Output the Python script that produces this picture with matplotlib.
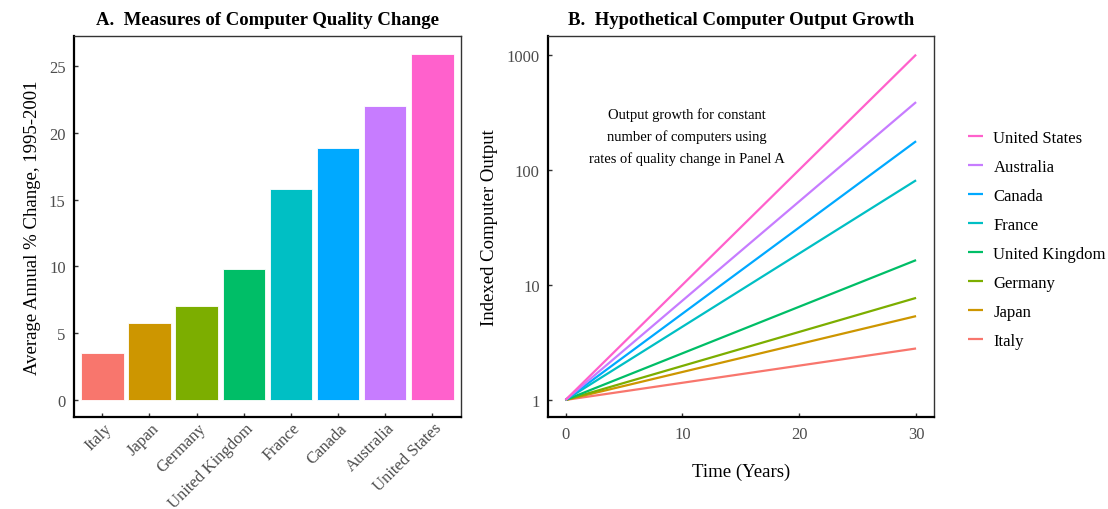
import matplotlib
matplotlib.use("Agg")
import matplotlib.pyplot as plt
import matplotlib.transforms as mtransforms

plt.rcParams['font.family'] = ['Liberation Serif', 'DejaVu Serif']

# panel A data
countries = ["Italy", "Japan", "Germany", "United Kingdom", "France",
             "Canada", "Australia", "United States"]
quality_change = [3.5, 5.75, 7.05, 9.8, 15.8, 18.85, 22.0, 25.95]
colors = ["#F8766D", "#CD9600", "#7CAE00", "#00BE67", "#00BFC4",
          "#00A9FF", "#C77CFF", "#FF61CC"]
a_yticks = [0, 5, 10, 15, 20, 25]

# panel B data: index at year 0 and year 30
years = [0, 30]
output_end = [2.8, 5.35, 7.7, 16.4, 81, 177, 387, 1000]
b_xticks = [0, 10, 20, 30]
b_yticks = [1, 10, 100, 1000]

tick_grey = "#4D4D4D"

fig = plt.figure(figsize=(11.08, 5.10), dpi=100)
axA = fig.add_axes([0.0668, 0.180, 0.349, 0.747])
axB = fig.add_axes([0.4946, 0.180, 0.348, 0.747])

def style_axes(ax):
    for side in ["left", "bottom"]:
        ax.spines[side].set_linewidth(1.6)
        ax.spines[side].set_color("black")
    for side in ["top", "right"]:
        ax.spines[side].set_linewidth(1.0)
        ax.spines[side].set_color("#333333")
    ax.tick_params(axis="both", direction="in", length=3, width=1.0,
                   color="#333333", labelcolor=tick_grey, labelsize=12,
                   top=False, right=False, pad=6)

# ---- panel A
pos = range(len(countries))
axA.bar(pos, quality_change, width=0.9, color=colors,
        edgecolor="white", linewidth=0.6)
axA.set_xlim(-0.6, 7.6)
axA.set_ylim(-1.3, 27.25)
axA.set_yticks(a_yticks)
axA.set_xticks(list(pos))
axA.set_xticklabels(countries, rotation=45, ha="right", va="center",
                    rotation_mode="anchor")
axA.set_ylabel("Average Annual % Change, 1995-2001", fontsize=13.5, labelpad=6)
axA.set_title("A.  Measures of Computer Quality Change", fontsize=13.5,
              fontweight="bold", pad=9)
style_axes(axA)
axA.tick_params(axis="x", pad=6)
shift = mtransforms.ScaledTranslation(7 / 100, 0, fig.dpi_scale_trans)
for lbl in axA.get_xticklabels():
    lbl.set_transform(lbl.get_transform() + shift)

# ---- panel B
handles = []
for name, col, end in zip(countries, colors, output_end):
    h, = axB.plot(years, [1, end], color=col, linewidth=1.6, label=name,
                  solid_capstyle="butt")
    handles.append(h)
axB.set_yscale("log")
axB.set_xlim(-1.5, 31.5)
axB.set_ylim(10 ** -0.15, 10 ** 3.16)
axB.set_xticks(b_xticks)
axB.set_yticks(b_yticks)
axB.set_yticklabels([str(v) for v in b_yticks])
axB.minorticks_off()
axB.set_xlabel("Time (Years)", fontsize=13.5, labelpad=15)
axB.set_ylabel("Indexed Computer Output", fontsize=13.5, labelpad=6)
axB.set_title("B.  Hypothetical Computer Output Growth", fontsize=13.5,
              fontweight="bold", pad=9)
axB.text(0.36, 0.738, "Output growth for constant\nnumber of computers using\nrates of quality change in Panel A",
         transform=axB.transAxes, ha="center", va="center", fontsize=10.5,
         linespacing=1.75)
style_axes(axB)

fig.legend(handles[::-1], countries[::-1], loc="upper left",
           bbox_to_anchor=(0.8605, 0.772), frameon=False, fontsize=12,
           handlelength=0.9, handletextpad=0.6, labelspacing=0.78)

fig.savefig("out.png", dpi=100)
